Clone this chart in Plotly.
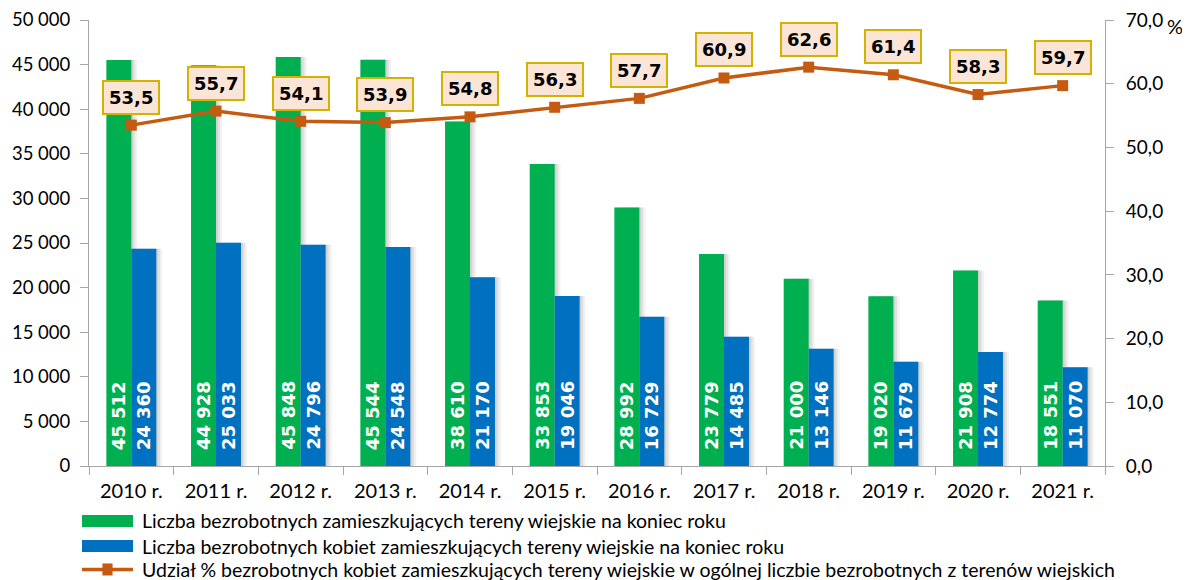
import plotly.graph_objects as go

years = ["2010 r.", "2011 r.", "2012 r.", "2013 r.", "2014 r.", "2015 r.",
         "2016 r.", "2017 r.", "2018 r.", "2019 r.", "2020 r.", "2021 r."]
total = [45512, 44928, 45848, 45544, 38610, 33853, 28992, 23779, 21000, 19020, 21908, 18551]
women = [24360, 25033, 24796, 24548, 21170, 19046, 16729, 14485, 13146, 11679, 12774, 11070]
share = [53.5, 55.7, 54.1, 53.9, 54.8, 56.3, 57.7, 60.9, 62.6, 61.4, 58.3, 59.7]

names = [
    "Liczba bezrobotnych zamieszkujących tereny wiejskie na koniec roku",
    "Liczba bezrobotnych kobiet zamieszkujących tereny wiejskie na koniec roku",
    "Udział % bezrobotnych kobiet zamieszkujących tereny wiejskie w ogólnej liczbie bezrobotnych z terenów wiejskich",
]

GREEN = "#00B050"
BLUE = "#0070C0"
ORANGE = "#C55A11"
FONT = "Lato, sans-serif"
BOLD = "DejaVu Sans, sans-serif"
BW = 0.295  # bar width in category units


def fmt(v):
    return f"{v:,}".replace(",", " ")


fig = go.Figure()
# soft shadows to the right of the bars
for vals, off in ((total, -BW), (women, 0.0)):
    for dx, a in ((0.07, 0.08), (0.045, 0.10), (0.022, 0.12)):
        fig.add_trace(go.Bar(x=years, y=vals, offset=off + dx, width=BW,
                             marker=dict(color=f"rgba(90,90,90,{a})", line_width=0),
                             hoverinfo="skip", showlegend=False))
fig.add_trace(go.Bar(x=years, y=total, name=names[0], offset=-BW, width=BW,
                     marker=dict(color=GREEN, line_width=0)))
fig.add_trace(go.Bar(x=years, y=women, name=names[1], offset=0.0, width=BW,
                     marker=dict(color=BLUE, line_width=0)))
fig.add_trace(go.Scatter(
    x=years, y=share, name=names[2], yaxis="y2", mode="lines+markers",
    line=dict(color=ORANGE, width=3.5), marker=dict(symbol="square", size=11, color=ORANGE),
))

# vertical value labels inside the bars
for yr, t, w in zip(years, total, women):
    for v, dx in ((t, -12.5), (w, 12.5)):
        fig.add_annotation(
            x=yr, y=0, xref="x", yref="y", xshift=dx, yshift=14,
            xanchor="center", yanchor="bottom", textangle=-90, showarrow=False,
            text=f"<b>{fmt(v)}</b>",
            font=dict(size=18, color="white", family=BOLD),
        )

for yr, v in zip(years, share):
    fig.add_annotation(
        x=yr, y=v, xref="x", yref="y2", yshift=28, showarrow=False,
        text=f"<b>{v:.1f}</b>".replace(".", ","),
        font=dict(size=18, color="black", family=BOLD),
        bgcolor="#FBE5D6", bordercolor="#D4B200", borderwidth=2, borderpad=5,
    )

fig.add_annotation(x=1, xref="paper", y=70, yref="y2", xshift=80, yshift=-6, showarrow=False,
                   text="%", font=dict(size=20, color="black", family=FONT))

# custom legend
leg_y = [-0.1233, -0.1794, -0.2320]
cols = [GREEN, BLUE]
for i in range(3):
    y = leg_y[i]
    if i < 2:
        fig.add_shape(type="rect", xref="paper", yref="paper",
                      x0=-0.0069, x1=0.0433, y0=y - 0.0135, y1=y + 0.0135,
                      fillcolor=cols[i], line_width=0)
    else:
        fig.add_shape(type="line", xref="paper", yref="paper",
                      x0=-0.0069, x1=0.0433, y0=y, y1=y, line=dict(color=ORANGE, width=3.5))
        fig.add_shape(type="rect", xref="paper", yref="paper",
                      x0=0.0132, x1=0.0232, y0=y - 0.0135, y1=y + 0.0135,
                      fillcolor=ORANGE, line_width=0)
    fig.add_annotation(x=0.0502, y=y, xref="paper", yref="paper", xanchor="left",
                       yanchor="middle", showarrow=False, text=names[i],
                       font=dict(size=19.5, color="black", family=FONT))

axis_common = dict(showline=True, linecolor="#A6A6A6", linewidth=1, ticks="outside",
                   ticklen=8, tickcolor="#A6A6A6", showgrid=False, zeroline=False,
                   ticklabeloverflow="allow", automargin=False)

fig.update_layout(
    width=1182, height=572,
    margin=dict(l=81, r=85, t=12, b=114, autoexpand=False),
    paper_bgcolor="white", plot_bgcolor="white",
    barmode="overlay",
    showlegend=False,
    separators=", ",
    font=dict(family=FONT, size=19, color="black"),
    xaxis=dict(**axis_common, tickson="boundaries", range=[-0.5, 11.5],
               tickfont=dict(size=20), ticklabelstandoff=7),
    yaxis=dict(**axis_common, range=[0, 50000], dtick=5000, tickformat=",d",
               tickfont=dict(size=18.5), ticklabelstandoff=6),
    yaxis2=dict(**axis_common, range=[0, 70], dtick=10, overlaying="y", side="right",
                tickformat=".1f", tickfont=dict(size=19), ticklabelstandoff=8),
)

fig.write_html("out.html")
